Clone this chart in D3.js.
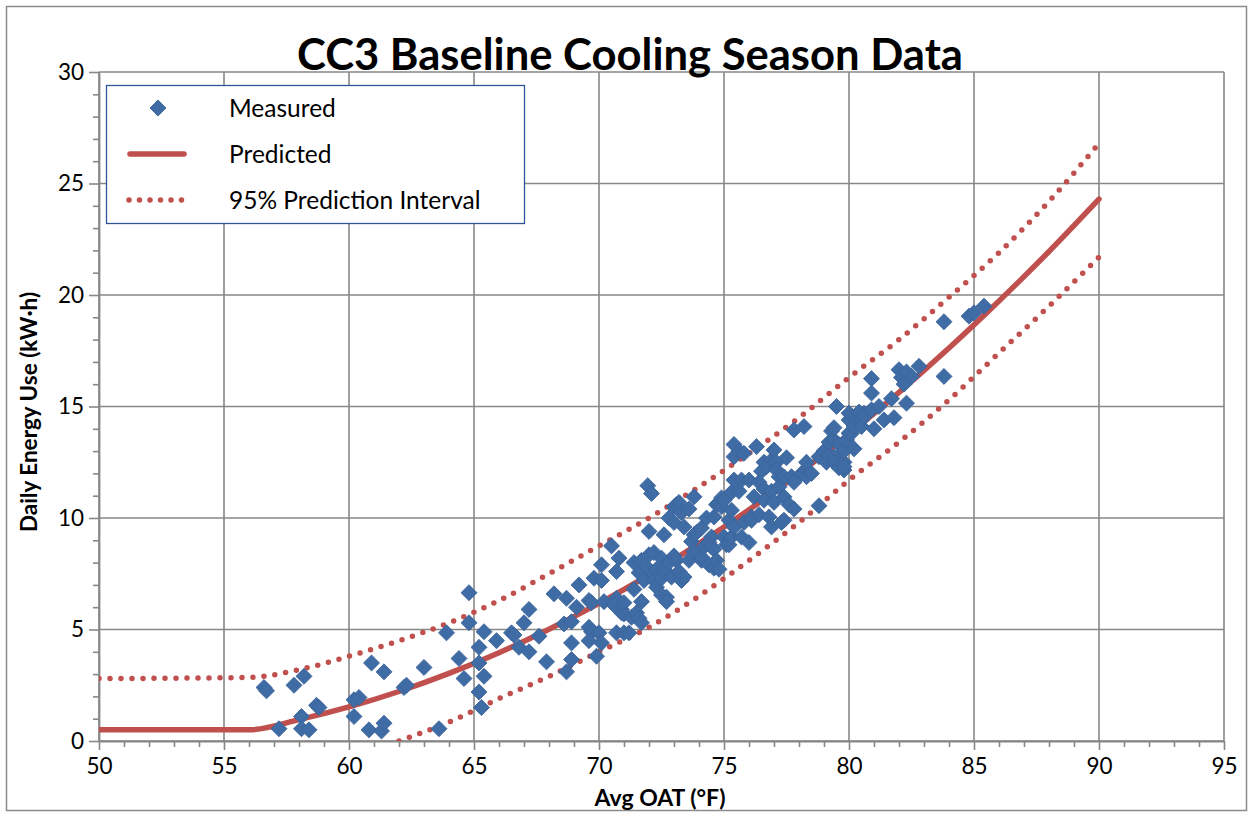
<!DOCTYPE html>
<html>
<head>
<meta charset="utf-8">
<script src="https://cdn.jsdelivr.net/npm/d3@7"></script>
<style>
  html, body { margin: 0; padding: 0; background: #fff; }
  svg { display: block; }
  text { font-family: Lato, "Open Sans", sans-serif; fill: #000; }
</style>
</head>
<body>
<svg id="chart" width="1253" height="816"></svg>
<script>
// ---------- data ----------
const titleText = "CC3 Baseline Cooling Season Data";
const xTitle = "Avg OAT (°F)";
const yTitle = "Daily Energy Use (kW·h)";
const legendLabels = ["Measured", "Predicted", "95% Prediction Interval"];

const xTicks = [50, 55, 60, 65, 70, 75, 80, 85, 90, 95];
const yTicks = [0, 5, 10, 15, 20, 25, 30];

// Measured points: average outdoor air temperature (°F)
const measuredOAT = [
  56.6,56.7,57.2,57.8,58.1,58.1,58.2,58.4,58.7,58.8,
  60.2,60.4,60.2,60.8,60.9,61.3,61.4,61.4,62.2,62.3,
  63.0,63.6,63.9,64.4,64.6,64.8,64.8,65.2,65.2,65.4,
  65.2,65.3,65.4,65.9,66.5,66.6,66.8,67.0,67.2,67.2,
  67.6,67.9,68.2,68.6,68.7,68.7,68.9,68.9,68.9,69.1,
  69.2,69.6,69.7,69.6,69.7,69.6,69.8,69.9,70.0,70.1,
  70.1,70.1,70.2,70.5,70.7,70.7,70.6,70.8,70.9,70.9,
  71.0,71.0,70.7,71.0,71.2,71.3,71.4,71.4,71.5,71.6,
  71.6,71.7,71.7,71.7,71.8,71.95,72.0,72.0,72.0,72.1,
  72.2,72.2,72.3,72.3,72.5,72.5,72.5,72.6,72.6,72.7,
  72.7,72.8,72.8,72.9,73.0,73.0,73.0,73.1,73.1,73.2,
  73.2,73.3,73.3,73.4,73.4,73.6,73.6,73.7,73.8,73.8,
  73.8,73.9,74.1,74.1,74.1,74.2,74.3,74.4,74.4,74.5,
  74.5,74.6,74.6,74.6,74.7,74.7,74.8,74.8,74.9,74.9,
  75.0,75.0,75.1,75.2,75.2,75.3,75.3,75.3,75.4,75.4,
  75.4,75.4,75.6,75.6,75.7,75.7,75.8,75.8,76.0,76.0,
  76.1,76.1,76.2,76.3,76.4,76.4,76.5,76.6,76.6,76.6,
  76.7,76.8,76.9,76.9,76.9,77.0,77.0,77.1,77.1,77.2,
  77.2,77.3,77.4,77.4,77.4,77.5,77.6,77.7,77.8,77.8,
  77.8,78.1,78.2,78.3,78.3,78.3,78.5,78.8,78.8,79.0,
  79.1,79.2,79.2,79.3,79.4,79.4,79.4,79.4,79.5,79.6,
  79.6,79.8,79.8,79.8,79.8,79.9,80.0,80.0,80.0,80.1,
  80.2,80.2,80.3,80.4,80.5,80.5,80.6,80.6,80.9,80.9,
  80.9,81.0,81.2,81.4,81.7,81.8,82.0,82.1,82.2,82.3,
  82.3,82.5,82.8,83.8,83.8,84.8,85.0,85.4
];
// Measured points: daily energy use (kW·h)
const measuredKWh = [
  2.4,2.25,0.55,2.5,1.1,0.55,2.9,0.5,1.6,1.5,
  1.85,1.95,1.1,0.5,3.5,0.45,0.8,3.1,2.4,2.5,
  3.3,0.55,4.85,3.7,2.8,6.65,5.3,3.5,4.2,4.9,
  2.2,1.5,2.9,4.5,4.85,4.75,4.2,5.3,5.9,4.0,
  4.7,3.55,6.6,5.25,6.4,3.1,5.35,4.4,3.65,6.0,
  7.0,6.3,6.2,5.1,4.9,4.5,7.3,3.8,4.85,4.4,
  7.2,7.9,6.25,8.75,7.6,6.4,6.1,8.2,5.9,5.75,
  5.7,6.2,4.85,4.85,4.85,5.55,6.8,8.0,5.75,5.5,
  7.55,5.3,6.25,8.1,7.2,11.45,8.35,7.7,9.4,11.1,
  8.45,7.2,7.7,6.9,8.2,7.3,6.55,7.7,9.25,6.45,
  6.25,8.0,10.0,7.35,8.3,9.8,10.5,8.1,10.6,7.6,
  10.7,7.2,10.25,7.35,9.6,8.1,10.4,8.95,8.5,9.25,
  10.95,9.35,8.1,9.55,8.25,8.7,10.0,8.9,7.9,9.15,
  8.7,8.6,7.75,10.05,8.1,10.6,7.7,10.7,10.9,10.5,
  9.15,10.8,8.8,9.9,8.8,10.35,9.15,11.15,13.3,12.75,
  11.7,9.6,13.0,11.2,11.7,9.15,12.9,9.8,11.7,8.9,
  10.05,9.9,10.95,13.2,11.6,10.15,12.1,12.5,11.3,10.8,
  12.3,10.05,12.6,11.2,9.6,13.05,10.7,12.5,12.15,11.85,
  11.4,9.8,11.85,10.95,9.9,12.7,10.6,11.85,13.95,11.6,
  10.4,12.0,14.1,12.15,12.5,11.85,12.0,12.75,10.55,13.0,
  12.5,12.85,13.4,13.9,12.75,12.5,13.5,14.05,15.0,13.3,
  12.25,12.15,12.5,13.0,12.3,13.5,14.4,14.7,13.8,13.8,
  14.1,13.1,14.5,14.75,14.4,14.1,14.7,14.55,16.25,15.6,
  14.85,14.0,15.0,14.4,15.35,14.5,16.65,16.3,16.0,16.55,
  15.15,16.35,16.8,18.8,16.35,19.05,19.2,19.5
];

// Predicted line and 95% prediction interval, read at these temperatures
const curveOAT   = [50, 56, 58, 60, 62, 64, 66, 68, 70, 72, 74, 76, 78, 80, 82, 84, 86, 88, 90];
const predicted  = [0.5, 0.5, 0.96, 1.53, 2.22, 3.03, 3.96, 5.01, 6.17, 7.45, 8.85, 10.37, 12.0, 13.76, 15.63, 17.62, 19.73, 21.95, 24.3];
const piUpper    = [2.8, 2.85, 3.2, 3.8, 4.5, 5.3, 6.3, 7.5, 8.75, 10.0, 11.4, 12.9, 14.5, 16.3, 18.0, 19.9, 21.9, 24.2, 26.8];
const lowerOAT   = [62, 64, 66, 68, 70, 72, 74, 76, 78, 80, 82, 84, 86, 88, 90];
const piLower    = [0.0, 0.85, 1.9, 2.9, 4.0, 5.1, 6.5, 8.1, 9.8, 11.7, 13.4, 15.3, 17.4, 19.5, 21.7];

// ---------- layout ----------
const W = 1253, H = 816;
const plot = { left: 99, right: 1224, top: 72, bottom: 741 };
const BLUE = "#3F6CA5", BLUE_EDGE = "#3A6399", RED = "#C0504D", GRID = "#878787";

const svg = d3.select("#chart");

// outer chart border
svg.append("rect")
  .attr("x", 6.5).attr("y", 6.5).attr("width", W - 13).attr("height", H - 12)
  .attr("fill", "#fff").attr("stroke", "#8c8c8c").attr("stroke-width", 1.5);

const x = d3.scaleLinear().domain([50, 95]).range([plot.left, plot.right]);
const y = d3.scaleLinear().domain([0, 30]).range([plot.bottom, plot.top]);

// gridlines
const grid = svg.append("g");
grid.selectAll("line.v").data(xTicks).join("line")
  .attr("x1", d => x(d)).attr("x2", d => x(d))
  .attr("y1", plot.top).attr("y2", plot.bottom)
  .attr("stroke", GRID).attr("stroke-width", 1.6);
grid.selectAll("line.h").data(yTicks).join("line")
  .attr("x1", plot.left).attr("x2", plot.right)
  .attr("y1", d => y(d)).attr("y2", d => y(d))
  .attr("stroke", GRID).attr("stroke-width", 1.6);

// minor ticks
const minorX = d3.range(50, 95.01, 1).filter(v => v % 5 !== 0);
const minorY = d3.range(0, 30.01, 1).filter(v => v % 5 !== 0);
svg.append("g").attr("transform", `translate(0,${plot.bottom})`)
  .call(d3.axisBottom(x).tickValues(minorX).tickSize(6).tickFormat(""))
  .call(g => g.select(".domain").remove())
  .call(g => g.selectAll("line").attr("stroke", GRID).attr("stroke-width", 1.6));
svg.append("g").attr("transform", `translate(${plot.left},0)`)
  .call(d3.axisLeft(y).tickValues(minorY).tickSize(6).tickFormat(""))
  .call(g => g.select(".domain").remove())
  .call(g => g.selectAll("line").attr("stroke", GRID).attr("stroke-width", 1.6));

// major axes
const xAxis = svg.append("g").attr("transform", `translate(0,${plot.bottom})`)
  .call(d3.axisBottom(x).tickValues(xTicks).tickSize(9).tickSizeOuter(0).tickPadding(8).tickFormat(d3.format("d")));
const yAxis = svg.append("g").attr("transform", `translate(${plot.left},0)`)
  .call(d3.axisLeft(y).tickValues(yTicks).tickSize(10).tickSizeOuter(0).tickPadding(5).tickFormat(d3.format("d")));
[xAxis, yAxis].forEach(a => {
  a.select(".domain").attr("stroke", GRID).attr("stroke-width", 1.8);
  a.selectAll(".tick line").attr("stroke", GRID).attr("stroke-width", 1.6);
  a.selectAll(".tick text").attr("font-family", "Lato, sans-serif").attr("font-size", 22.5).attr("fill", "#000");
});

// lines
const line = d3.line().x(d => x(d[0])).y(d => y(d[1])).curve(d3.curveMonotoneX);
svg.append("clipPath").attr("id", "plotclip").append("rect")
  .attr("x", plot.left).attr("y", plot.top - 4)
  .attr("width", plot.right - plot.left).attr("height", plot.bottom - plot.top + 4);

const lines = svg.append("g").attr("clip-path", "url(#plotclip)");
lines.append("path")
  .datum(d3.zip(curveOAT, piUpper))
  .attr("d", line).attr("fill", "none").attr("stroke", RED)
  .attr("stroke-width", 5.5).attr("stroke-linecap", "round").attr("stroke-dasharray", "0 11");
lines.append("path")
  .datum(d3.zip(lowerOAT, piLower))
  .attr("d", line).attr("fill", "none").attr("stroke", RED)
  .attr("stroke-width", 5.5).attr("stroke-linecap", "round").attr("stroke-dasharray", "0 11");
lines.append("path")
  .datum(d3.zip(curveOAT, predicted))
  .attr("d", line).attr("fill", "none").attr("stroke", RED)
  .attr("stroke-width", 5.5).attr("stroke-linecap", "round");

// measured diamonds
const diamond = d3.symbol().type(d3.symbolSquare).size(128);
svg.append("g").selectAll("path")
  .data(d3.zip(measuredOAT, measuredKWh))
  .join("path")
  .attr("d", diamond)
  .attr("transform", d => `translate(${x(d[0])},${y(d[1])}) rotate(45)`)
  .attr("fill", BLUE).attr("stroke", BLUE_EDGE).attr("stroke-width", 0.8);

// title
svg.append("text")
  .attr("x", 630).attr("y", 70)
  .attr("text-anchor", "middle")
  .attr("font-size", 43).attr("font-weight", "bold")
  .attr("textLength", 666).attr("lengthAdjust", "spacingAndGlyphs")
  .text(titleText);

// axis titles
svg.append("text")
  .attr("x", 660).attr("y", 806)
  .attr("text-anchor", "middle")
  .attr("font-size", 23).attr("font-weight", "bold")
  .text(xTitle);
svg.append("text")
  .attr("transform", "translate(37,412) rotate(-90)")
  .attr("text-anchor", "middle")
  .attr("font-size", 22.5).attr("font-weight", "bold")
  .text(yTitle);

// legend
const lg = svg.append("g");
lg.append("rect")
  .attr("x", 106.5).attr("y", 85.5).attr("width", 418).attr("height", 138)
  .attr("fill", "#fff").attr("stroke", "#2F5597").attr("stroke-width", 1.3);
const rowY = [108, 154, 200];
lg.append("path")
  .attr("d", diamond)
  .attr("transform", `translate(158,${rowY[0]}) rotate(45)`)
  .attr("fill", BLUE).attr("stroke", BLUE_EDGE).attr("stroke-width", 0.8);
lg.append("line")
  .attr("x1", 130).attr("x2", 184).attr("y1", rowY[1]).attr("y2", rowY[1])
  .attr("stroke", RED).attr("stroke-width", 5.5).attr("stroke-linecap", "round");
lg.append("line")
  .attr("x1", 129).attr("x2", 182).attr("y1", rowY[2]).attr("y2", rowY[2])
  .attr("stroke", RED).attr("stroke-width", 5.5).attr("stroke-linecap", "round")
  .attr("stroke-dasharray", "0 10.5");
lg.selectAll("text.lab").data(legendLabels).join("text")
  .attr("x", 229).attr("y", (d, i) => rowY[i] + 8.5)
  .attr("font-size", 24.5)
  .text(d => d);
</script>
</body>
</html>
